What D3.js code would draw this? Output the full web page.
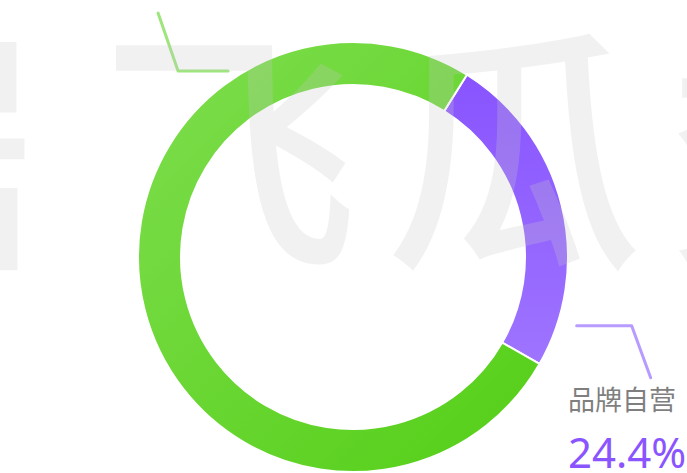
<!DOCTYPE html>
<html><head><meta charset="utf-8">
<script src="https://cdn.jsdelivr.net/npm/d3@7"></script>
<style>html,body{margin:0;padding:0;background:#fff;overflow:hidden}</style>
</head><body>
<svg id="chart" width="687" height="473"></svg>
<script>
// ---- data ----
const categories = ["品牌自营", "达人带货"];
const values = [24.4, 75.6];
const percentLabels = ["24.4%", "75.6%"];
const watermarkText = "飞瓜数据";

// ---- layout / style ----
const W = 687, H = 473;
const cx = 353, cy = 257, outerR = 215, innerR = 172;
const startDeg = 32;
const colors = [
  {id: "gPurple", from: "#8650ff", to: "#9e74ff", line: "#b79bff", text: "#8a55ff"},
  {id: "gGreen", from: "#7fde4f", to: "#52ce14", line: "#9de57c", text: "#5ccf22"}
];

const svg = d3.select("#chart");
const defs = svg.append("defs");
// gradients in the ring group's own coordinates (centre = 0,0)
const gp = defs.append("linearGradient").attr("id", "gPurple")
  .attr("gradientUnits", "userSpaceOnUse")
  .attr("x1", 0).attr("y1", -outerR).attr("x2", 0).attr("y2", outerR * 0.5);
gp.append("stop").attr("offset", 0).attr("stop-color", colors[0].from);
gp.append("stop").attr("offset", 1).attr("stop-color", colors[0].to);
const gg = defs.append("linearGradient").attr("id", "gGreen")
  .attr("gradientUnits", "userSpaceOnUse")
  .attr("x1", -outerR).attr("y1", -outerR).attr("x2", outerR).attr("y2", outerR);
gg.append("stop").attr("offset", 0).attr("stop-color", colors[1].from);
gg.append("stop").attr("offset", 1).attr("stop-color", colors[1].to);

const pie = d3.pie().sort(null).value(d => d)
  .startAngle(startDeg * Math.PI / 180)
  .endAngle(startDeg * Math.PI / 180 + 2 * Math.PI);
const arcs = pie(values);
const arc = d3.arc().innerRadius(innerR).outerRadius(outerR);

const g = svg.append("g").attr("transform", `translate(${cx},${cy})`);
g.selectAll("path.slice").data(arcs).enter().append("path")
  .attr("class", "slice")
  .attr("d", arc)
  .attr("fill", (d, i) => `url(#${colors[i].id})`)
  .attr("stroke", "#fff").attr("stroke-width", 2);

// label lines (polar anchors relative to the ring)
function polar(deg, r) {
  const a = deg * Math.PI / 180;
  return [Math.sin(a) * r, -Math.cos(a) * r];
}
const labelLayout = [
  {anchorDeg: 107.1, anchorR: 234, hLen: 55, dx: 19, dy: 52, tx: 215, ty1: 153, ty2: 211, show: true},
  {anchorDeg: 326.1, anchorR: 224, hLen: -50, dx: -20, dy: -58, show: false} // text lies above the visible area
];
arcs.forEach((d, i) => {
  const L = labelLayout[i];
  const p0 = polar(L.anchorDeg, L.anchorR);
  const p1 = [p0[0] + L.hLen, p0[1]];
  const p2 = [p1[0] + L.dx, p1[1] + L.dy];
  g.append("polyline")
    .attr("points", [p0, p1, p2].map(p => p.join(",")).join(" "))
    .attr("fill", "none").attr("stroke", colors[i].line)
    .attr("stroke-width", 3).attr("stroke-linecap", "round").attr("stroke-linejoin", "round");
  if (!L.show) return;
  g.append("text").attr("x", L.tx).attr("y", L.ty1)
    .attr("font-family", "'Noto Sans CJK SC','Noto Sans',sans-serif")
    .attr("font-size", 27).attr("fill", "#7f7f7f").text(categories[i]);
  g.append("text").attr("x", L.tx).attr("y", L.ty2)
    .attr("font-family", "'Noto Sans','Noto Sans CJK SC',sans-serif")
    .attr("font-size", 42).attr("fill", colors[i].text).text(percentLabels[i]);
});

// watermark overlay
const wm = svg.append("g").attr("pointer-events", "none");
const wmFont = 258, wmSpacing = 27, wmY = 249;
wm.append("text").attr("x", 100).attr("y", wmY)
  .attr("font-family", "'Noto Sans CJK SC',sans-serif")
  .attr("font-weight", 500).attr("font-size", wmFont)
  .attr("letter-spacing", wmSpacing)
  .attr("fill", "#c8c8c8").attr("fill-opacity", 0.25)
  .text(watermarkText);
wm.append("text").attr("x", 100 - wmFont - wmSpacing - 38).attr("y", wmY)
  .attr("font-family", "'Noto Sans CJK SC',sans-serif")
  .attr("font-weight", 500).attr("font-size", wmFont)
  .attr("fill", "#c8c8c8").attr("fill-opacity", 0.25)
  .text(watermarkText.slice(-1));
</script>
</body></html>
